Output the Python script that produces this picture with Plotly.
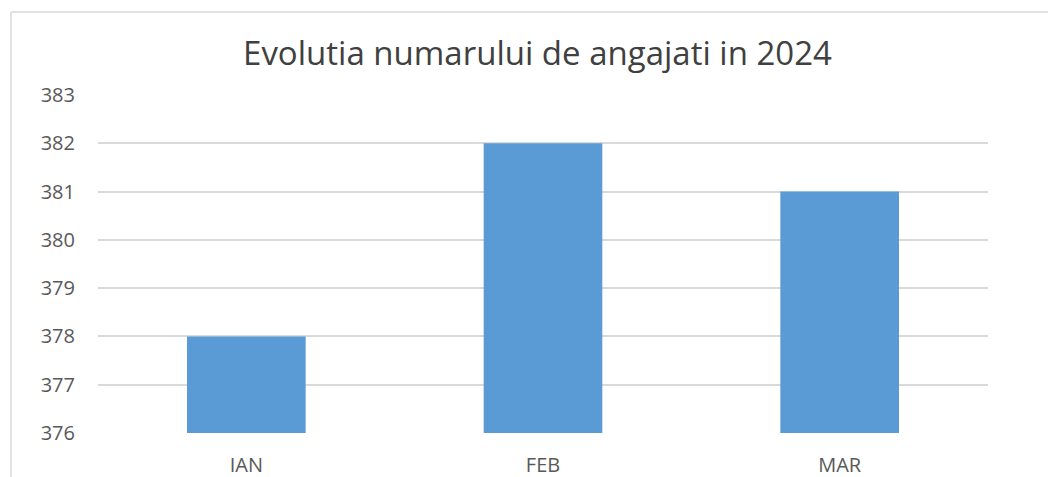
import plotly.graph_objects as go

# Chart data
months = ["IAN", "FEB", "MAR"]
employees = [378, 382, 381]
y_ticks = [376, 377, 378, 379, 380, 381, 382, 383]
y_base = 376

W, H = 1048, 477
L, R, T, B = 98, 60, 95, 44
pw, ph = W - L - R, H - T - B

fig = go.Figure()
fig.add_trace(go.Bar(
    x=months,
    y=[v - y_base for v in employees],
    base=y_base,
    marker_color="#5B9BD5",
    marker_line_width=0,
))

fig.update_layout(
    width=W, height=H,
    margin=dict(l=L, r=R, t=T, b=B, autoexpand=False),
    paper_bgcolor="white",
    plot_bgcolor="white",
    bargap=0.6,
    showlegend=False,
    font=dict(family="Open Sans", color="#595959"),
    title=dict(
        text="Evolutia numarului de angajati in 2024",
        x=537.5 / W, xanchor="center",
        y=1 - 53 / H, yanchor="middle",
        font=dict(size=33, color="#404040"),
    ),
    xaxis=dict(
        showgrid=False, showline=False, ticks="",
        tickfont=dict(size=20, color="#595959"),
        ticklabelstandoff=18,
    ),
    yaxis=dict(
        range=[376, 383],
        tickvals=y_ticks,
        showgrid=True, gridcolor="#D9D9D9", gridwidth=1.5,
        zeroline=False, showline=False, ticks="",
        tickfont=dict(size=20, color="#595959"),
        ticklabelstandoff=22,
    ),
    shapes=[
        # chart frame (left and top edges visible)
        dict(type="line", xref="paper", yref="paper",
             x0=(11 - L) / pw, x1=(11 - L) / pw,
             y0=1 + (T - 12) / ph, y1=-(B + 5) / ph,
             line=dict(color="#D9D9D9", width=1.5)),
        dict(type="line", xref="paper", yref="paper",
             x0=(11 - L) / pw, x1=(W - L) / pw,
             y0=1 + (T - 12) / ph, y1=1 + (T - 12) / ph,
             line=dict(color="#D9D9D9", width=1.5)),
    ],
)

fig.write_html(
    "out.html",
    config={"displayModeBar": False},
    post_script="document.body.style.margin='0';",
)
